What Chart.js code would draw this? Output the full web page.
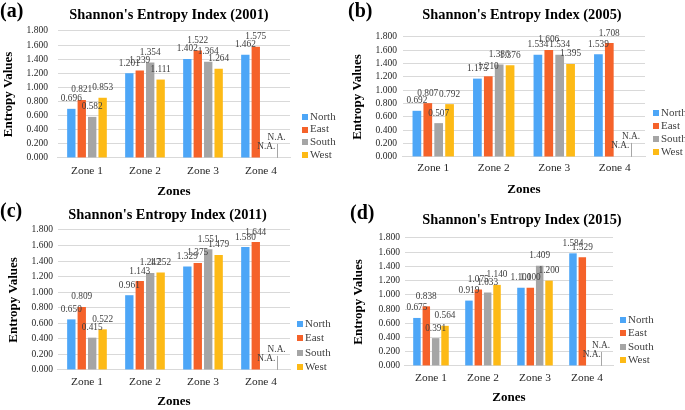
<!DOCTYPE html>
<html>
<head>
<meta charset="utf-8">
<script src="https://cdn.jsdelivr.net/npm/chart.js@4.4.1/dist/chart.umd.min.js"></script>
<style>
  html, body { margin: 0; padding: 0; background: #fff; overflow: hidden; width: 685px; height: 410px; }
  .panel { position: absolute; }
  .tag { position: absolute; font: bold 20px/20px "Liberation Serif", "Times New Roman", serif; color: #000; }
</style>
</head>
<body>
<div class="panel" style="left:0;top:0;width:338px;height:200px"><canvas id="chartA"></canvas></div>
<div class="panel" style="left:345px;top:0;width:354px;height:200px"><canvas id="chartB"></canvas></div>
<div class="panel" style="left:0;top:200px;width:335px;height:210px"><canvas id="chartC"></canvas></div>
<div class="panel" style="left:345px;top:200px;width:354px;height:210px"><canvas id="chartD"></canvas></div>
<div class="tag" style="left:0;top:0">(a)</div>
<div class="tag" style="left:348px;top:0">(b)</div>
<div class="tag" style="left:0;top:200px">(c)</div>
<div class="tag" style="left:350px;top:202px">(d)</div>

<script>
'use strict';

var zones = ['Zone 1', 'Zone 2', 'Zone 3', 'Zone 4'];
var directions = ['North', 'East', 'South', 'West'];
var yMin = 0, yMax = 1.8, yStep = 0.2;

// null = N.A. in the source figure
var north2001 = [0.696, 1.201, 1.402, 1.462];
var east2001  = [0.821, 1.239, 1.522, 1.575];
var south2001 = [0.582, 1.354, 1.364, null];
var west2001  = [0.853, 1.111, 1.264, null];

var north2005 = [0.692, 1.175, 1.534, 1.539];
var east2005  = [0.807, 1.210, 1.606, 1.708];
var south2005 = [0.507, 1.386, 1.534, null];
var west2005  = [0.792, 1.376, 1.395, null];

var north2011 = [0.650, 0.961, 1.329, 1.580];
var east2011  = [0.809, 1.143, 1.375, 1.644];
var south2011 = [0.415, 1.247, 1.551, null];
var west2011  = [0.522, 1.252, 1.479, null];

var north2015 = [0.675, 0.919, 1.100, 1.584];
var east2015  = [0.838, 1.075, 1.100, 1.529];
var south2015 = [0.391, 1.033, 1.409, null];
var west2015  = [0.564, 1.140, 1.200, null];

var colors = ['#4DA6F7', '#F5622A', '#A5A5A5', '#FDBA16'];
var naLift = [11, 11, 11, 20];
var SERIF = '"Liberation Serif", "Times New Roman", serif';

var barLabels = {
  id: 'barLabels',
  afterDatasetsDraw: function (chart) {
    var ctx = chart.ctx;
    var zero = chart.scales.y.getPixelForValue(0);
    ctx.save();
    ctx.font = '9.3px ' + SERIF;
    ctx.fillStyle = '#404040';
    ctx.textAlign = 'center';
    ctx.textBaseline = 'middle';
    chart.data.datasets.forEach(function (ds, di) {
      chart.getDatasetMeta(di).data.forEach(function (bar, i) {
        var v = ds.data[i];
        if (v === null) {
          var lift = naLift[di];
          ctx.fillText('N.A.', bar.x, zero - lift);
          if (lift > 12) {
            ctx.strokeStyle = '#A6A6A6';
            ctx.lineWidth = 1;
            ctx.beginPath();
            ctx.moveTo(Math.round(bar.x) + 0.5, zero);
            ctx.lineTo(Math.round(bar.x) + 0.5, zero - lift + 6);
            ctx.stroke();
          }
        } else {
          ctx.fillText(v.toFixed(3), bar.x, bar.y - 10);
        }
      });
    });
    ctx.restore();
  }
};

var sideLegend = {
  id: 'sideLegend',
  afterDraw: function (chart, args, opts) {
    var area = chart.chartArea;
    var ctx = chart.ctx;
    var n = chart.data.datasets.length;
    ctx.save();
    ctx.font = '11px ' + SERIF;
    ctx.textAlign = 'left';
    ctx.textBaseline = 'middle';
    chart.data.datasets.forEach(function (ds, i) {
      var y = area.bottom - opts.bottom - (n - 1 - i) * opts.step;
      var x = area.right + opts.gap;
      ctx.fillStyle = ds.backgroundColor;
      ctx.fillRect(x, Math.round(y - 3), 6, 6);
      ctx.fillStyle = '#404040';
      ctx.fillText(ds.label, x + 8, y);
    });
    ctx.restore();
  }
};

function makeChart(id, year, series, lay) {
  var canvas = document.getElementById(id);
  new Chart(canvas.getContext('2d'), {
    type: 'bar',
    data: {
      labels: zones,
      datasets: series.map(function (vals, i) {
        return {
          label: directions[i],
          data: vals,
          backgroundColor: colors[i],
          borderWidth: 0,
          categoryPercentage: 0.72,
          barPercentage: 0.8
        };
      })
    },
    options: {
      animation: false,
      responsive: true,
      maintainAspectRatio: false,
      layout: { padding: { left: 0, top: 0, right: 0, bottom: lay.bottom } },
      scales: {
        x: {
          grid: { display: false, drawTicks: false },
          border: { color: '#D9D9D9' },
          ticks: { color: '#262626', padding: lay.xTickPad, font: { family: SERIF, size: 11.4 } },
          title: { display: true, text: 'Zones', color: '#000', font: { family: SERIF, size: 13, weight: 'bold' }, padding: { top: lay.xTitlePad, bottom: 0 } }
        },
        y: {
          min: yMin,
          max: yMax,
          grid: { color: '#D9D9D9', drawTicks: false },
          border: { display: false },
          ticks: {
            stepSize: yStep,
            autoSkip: false,
            color: '#262626',
            padding: lay.yTickPad,
            font: { family: SERIF, size: 9.5 },
            callback: function (v) { return Number(v).toFixed(3); }
          },
          title: { display: true, text: 'Entropy Values', color: '#000', font: { family: SERIF, size: 13, weight: 'bold' }, padding: { top: lay.yTitleTop, bottom: lay.yTitleBottom } }
        },
        // empty right-hand axis: keeps room for the legend without squeezing the title
        legendRoom: {
          type: 'linear',
          position: 'right',
          grid: { display: false, drawTicks: false },
          border: { display: false },
          ticks: { display: false },
          afterFit: function (scale) { scale.width = lay.legendRoom; }
        }
      },
      plugins: {
        legend: { display: false },
        tooltip: { enabled: false },
        title: {
          display: true,
          text: "Shannon's Entropy Index (" + year + ')',
          color: '#000',
          font: { family: SERIF, size: 14.4, weight: 'bold' },
          padding: { top: lay.titleTop, bottom: lay.titleBottom }
        },
        sideLegend: { gap: lay.legendGap, step: lay.legendStep, bottom: lay.legendBottom }
      }
    },
    plugins: [barLabels, sideLegend]
  });
}

makeChart('chartA', 2001, [north2001, east2001, south2001, west2001], {
  legendRoom: 48, bottom: 0.4, titleTop: 6.4, titleBottom: 7.3,
  yTickPad: 10, yTitleTop: 1.0, yTitleBottom: 0, xTickPad: 6.2, xTitlePad: 0,
  legendGap: 12, legendStep: 12.7, legendBottom: 3
});
makeChart('chartB', 2005, [north2005, east2005, south2005, west2005], {
  legendRoom: 54, bottom: 2.2, titleTop: 6.4, titleBottom: 13.3,
  yTickPad: 6, yTitleTop: 4.7, yTitleBottom: 4.3, xTickPad: 4.2, xTitlePad: 3.2,
  legendGap: 8, legendStep: 13, legendBottom: 5
});
makeChart('chartC', 2011, [north2011, east2011, south2011, west2011], {
  legendRoom: 45, bottom: 0.2, titleTop: 6.4, titleBottom: 6.3,
  yTickPad: 5, yTitleTop: 6.2, yTitleBottom: 4.8, xTickPad: 5.2, xTitlePad: 0.2,
  legendGap: 7, legendStep: 14.3, legendBottom: 3
});
makeChart('chartD', 2015, [north2015, east2015, south2015, west2015], {
  legendRoom: 86, bottom: 4.4, titleTop: 11.4, titleBottom: 9.3,
  yTickPad: 5, yTitleTop: 6.2, yTitleBottom: 6.8, xTickPad: 5.2, xTitlePad: 0,
  legendGap: 7, legendStep: 13.3, legendBottom: 6
});
</script>
</body>
</html>
